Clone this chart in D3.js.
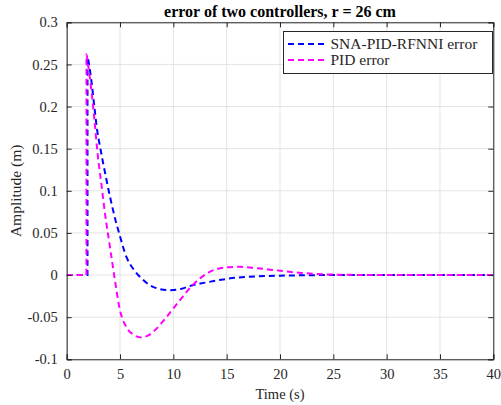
<!DOCTYPE html>
<html><head><meta charset="utf-8">
<script src="https://cdn.jsdelivr.net/npm/d3@7"></script>
<style>
body{margin:0;background:#fff;}
svg text{font-family:"Liberation Serif","Times New Roman",serif !important;fill:#262626;}
</style></head>
<body><svg id="c" width="501" height="405"></svg>
<script>
const title = "error of two controllers, r = 26 cm";
const xLabel = "Time (s)";
const yLabel = "Amplitude (m)";
const seriesNames = ["SNA-PID-RFNNI error", "PID error"];
const seriesColors = ["#0000ff", "#ff00ff"];
const xTicks = [0,5,10,15,20,25,30,35,40];
const yTicks = [-0.1,-0.05,0,0.05,0.1,0.15,0.2,0.25,0.3];
const yTickLabels = ["-0.1","-0.05","0","0.05","0.1","0.15","0.2","0.25","0.3"];

const tBlue = [0, 1.95, 1.952, 2.13, 2.35, 2.6, 2.81, 3.13, 3.37, 4.06, 4.62, 4.93, 5.6, 6.2, 6.86, 7.79, 8.7, 9.65, 10.7, 11.8, 13, 14.3, 16, 18, 20, 22, 25, 30, 35, 40];
const vBlue = [0, 0, 0.258, 0.247, 0.227, 0.199, 0.176, 0.152, 0.136, 0.093, 0.063, 0.049, 0.0215, 0.008, -0.002, -0.012, -0.0165, -0.018, -0.0165, -0.012, -0.009, -0.006, -0.003, -0.0015, -0.0007, -0.0003, 0, 0, 0, 0];

const tPid = [0, 1.85, 1.852, 2.0, 2.35, 2.6, 2.9, 3.28, 3.59, 4.06, 4.52, 5.0, 5.6, 6.3, 7.0, 7.6, 8.1, 9.35, 10.6, 11.8, 13.4, 14.9, 16.2, 17.5, 19.6, 22, 24.3, 27, 30, 35, 40];
const vPid = [0, 0, 0.262, 0.25, 0.215, 0.184, 0.144, 0.105, 0.073, 0.033, -0.006, -0.042, -0.062, -0.071, -0.074, -0.072, -0.0675, -0.05, -0.03, -0.012, 0.0037, 0.009, 0.0098, 0.0085, 0.0057, 0.0025, 0.0008, 0.0002, 0, 0, 0];

const svg = d3.select("#c");
const L = 66.7, R = 493.3, T = 22.3, B = 359.3;
const x = d3.scaleLinear().domain([0,40]).range([L,R]);
const y = d3.scaleLinear().domain([-0.1,0.3]).range([B,T]);

// grid
const g = svg.append("g");
g.selectAll(".gx").data(xTicks).enter().append("line")
  .attr("x1",d=>x(d)).attr("x2",d=>x(d)).attr("y1",T).attr("y2",B)
  .attr("stroke","#e3e3e3").attr("stroke-width",1);
g.selectAll(".gy").data(yTicks).enter().append("line")
  .attr("x1",L).attr("x2",R).attr("y1",d=>y(d)).attr("y2",d=>y(d))
  .attr("stroke","#e3e3e3").attr("stroke-width",1);

// lines
const series = [tBlue.map((t,i)=>[t,vBlue[i]]), tPid.map((t,i)=>[t,vPid[i]])];
const line = d3.line().x(d=>x(d[0])).y(d=>y(d[1])).curve(d3.curveMonotoneX);
svg.append("clipPath").attr("id","cp").append("rect").attr("x",L).attr("y",T).attr("width",R-L).attr("height",B-T);
series.forEach((s,i)=>{
  svg.append("path").attr("d",line(s)).attr("fill","none")
    .attr("stroke",seriesColors[i]).attr("stroke-width",2)
    .attr("stroke-dasharray","6,4").attr("clip-path","url(#cp)");
});

// axes
const ax = svg.append("g").attr("transform",`translate(0,${B})`)
  .call(d3.axisBottom(x).tickValues(xTicks).tickSize(-5).tickPadding(9));
const axT = svg.append("g").attr("transform",`translate(0,${T})`)
  .call(d3.axisTop(x).tickValues(xTicks).tickSize(-5).tickFormat(""));
const ay = svg.append("g").attr("transform",`translate(${L},0)`)
  .call(d3.axisLeft(y).tickValues(yTicks).tickSize(-5).tickPadding(9).tickFormat((d,i)=>yTickLabels[i]));
const ayR = svg.append("g").attr("transform",`translate(${R},0)`)
  .call(d3.axisRight(y).tickValues(yTicks).tickSize(-5).tickFormat(""));
[ax,axT,ay,ayR].forEach(a=>{
  a.attr("font-family",null);
  a.selectAll("path").attr("stroke","#262626").attr("stroke-width",1);
  a.selectAll("line").attr("stroke","#262626");
  a.selectAll("text").style("font-size","14.5px").style("fill","#262626");
});

// labels
svg.append("text").attr("x",(L+R)/2).attr("y",17).attr("text-anchor","middle")
  .style("font-size","16px").attr("font-weight","bold").style("fill","#000").text(title);
svg.append("text").attr("x",(L+R)/2).attr("y",399).attr("text-anchor","middle")
  .style("font-size","14.5px").text(xLabel);
svg.append("text").attr("transform",`translate(21,${(T+B)/2}) rotate(-90)`).attr("text-anchor","middle")
  .style("font-size","15.5px").text(yLabel);

// legend
const lg = svg.append("g");
lg.append("rect").attr("x",283.5).attr("y",31.5).attr("width",209).attr("height",42)
  .attr("fill","#fff").attr("stroke","#262626").attr("stroke-width",1);
seriesNames.forEach((n,i)=>{
  const yy = 44 + i*16;
  lg.append("line").attr("x1",288).attr("x2",328).attr("y1",yy).attr("y2",yy)
    .attr("stroke",seriesColors[i]).attr("stroke-width",2).attr("stroke-dasharray","6,4");
  lg.append("text").attr("x",330.5).attr("y",yy+5).style("font-size","15.5px").text(n);
});
</script></body></html>
